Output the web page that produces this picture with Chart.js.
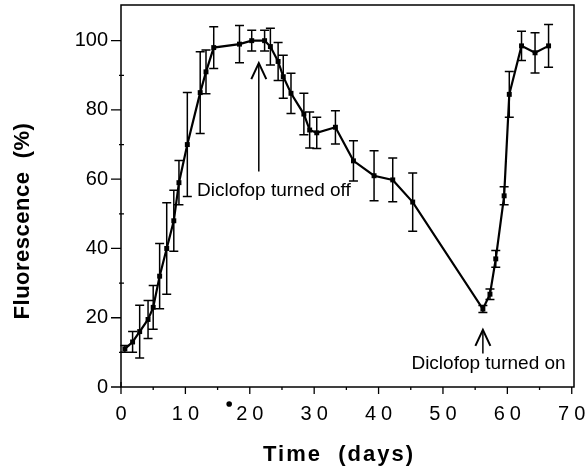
<!DOCTYPE html>
<html>
<head>
<meta charset="utf-8">
<script src="https://cdn.jsdelivr.net/npm/chart.js@4/dist/chart.umd.min.js"></script>
<style>
html,body{margin:0;padding:0;background:#fff;}
canvas{display:block;}
</style>
</head>
<body>
<canvas id="c" width="588" height="470"></canvas>
<script>
// ---- data ----
const days = [0.6, 1.8, 2.9, 4.2, 5.0, 6.0, 7.1, 8.2, 9.0, 10.3, 12.3, 13.2, 14.4, 18.4, 20.3, 22.3, 23.2, 24.4, 25.2, 26.4, 28.4, 29.3, 30.4, 33.3, 36.1, 39.3, 42.2, 45.3, 56.2, 57.3, 58.2, 59.5, 60.3, 62.2, 64.3, 66.4];
const fluorescence = [11, 13, 16, 19.5, 23, 32, 40, 48, 59, 70, 85, 91, 98, 99, 100, 100, 98.3, 94, 89.6, 84.8, 78.8, 74.2, 73.4, 75, 65.3, 61, 59.8, 53.4, 22.5, 26.8, 37, 55.2, 84.5, 98.5, 96.5, 98.5];
const errors = [1, 3, 7.6, 5.5, 6.3, 9.4, 13.2, 8.8, 6.4, 15, 11.8, 6.3, 6, 5.4, 3, 3, 5.3, 5.5, 6.2, 5.8, 6, 5.2, 4.5, 4.8, 5.8, 7.2, 6.3, 8.4, 1, 1.5, 2.4, 2.6, 6.6, 4.2, 5.8, 6.2];
const xTickValues = [0, 10, 20, 30, 40, 50, 60, 70];
const xMinorTicks = [5, 15, 25, 35, 45, 55, 65];
const yTickValues = [0, 20, 40, 60, 80, 100];
const yMinorTicks = [10, 30, 50, 70, 90];
const xTitle = 'Time  (days)';
const yTitle = 'Fluorescence  (%)';
const annotations = [
  {text: 'Diclofop turned off', arrowX: 21.4, tipY: 93.5, tailY: 62.2, textX: 11.8, textY: 56.6},
  {text: 'Diclofop turned on', arrowX: 56.2, tipY: 16.5, tailY: 9.7, textX: 45.1, textY: 6.6}
];
const strayDot = {x: 16.8, y: -4.9};

const FONT = "'Liberation Sans', Arial, Helvetica, sans-serif";

const drawPlugin = {
  id: 'extras',
  afterDatasetsDraw(chart) {
    const ctx = chart.ctx;
    const xs = chart.scales.x, ys = chart.scales.y;
    const a = chart.chartArea;
    ctx.save();
    ctx.strokeStyle = '#000';
    ctx.fillStyle = '#000';
    // frame
    ctx.lineWidth = 1.5;
    ctx.strokeRect(a.left, a.top, a.right - a.left, a.bottom - a.top);
    // ticks
    ctx.lineWidth = 1.3;
    ctx.beginPath();
    yTickValues.forEach(v => { const p = ys.getPixelForValue(v); ctx.moveTo(a.left - 10, p); ctx.lineTo(a.left, p); });
    yMinorTicks.forEach(v => { const p = ys.getPixelForValue(v); ctx.moveTo(a.left - 2, p); ctx.lineTo(a.left + 3, p); });
    xTickValues.forEach(v => { const p = xs.getPixelForValue(v); ctx.moveTo(p, a.bottom); ctx.lineTo(p, a.bottom + 7); });
    xMinorTicks.forEach(v => { const p = xs.getPixelForValue(v); ctx.moveTo(p, a.bottom); ctx.lineTo(p, a.bottom + 3); });
    const x0 = xs.getPixelForValue(0);
    ctx.moveTo(x0, a.bottom - 5); ctx.lineTo(x0, a.bottom);
    ctx.stroke();
    // error bars
    ctx.lineWidth = 1.5;
    ctx.beginPath();
    days.forEach((d, i) => {
      const px = xs.getPixelForValue(d);
      const hi = ys.getPixelForValue(fluorescence[i] + errors[i]);
      const lo = ys.getPixelForValue(fluorescence[i] - errors[i]);
      ctx.moveTo(px, hi); ctx.lineTo(px, lo);
      ctx.moveTo(px - 4.5, hi); ctx.lineTo(px + 4.5, hi);
      ctx.moveTo(px - 4.5, lo); ctx.lineTo(px + 4.5, lo);
    });
    ctx.stroke();
    // annotations
    annotations.forEach(an => {
      const px = xs.getPixelForValue(an.arrowX);
      const tip = ys.getPixelForValue(an.tipY);
      const tail = ys.getPixelForValue(an.tailY);
      ctx.lineWidth = 1.5;
      ctx.beginPath();
      ctx.moveTo(px, tail); ctx.lineTo(px, tip);
      ctx.stroke();
      ctx.lineWidth = 2;
      ctx.beginPath();
      ctx.moveTo(px - 7.5, tip + 16); ctx.lineTo(px, tip); ctx.lineTo(px + 7.5, tip + 16);
      ctx.stroke();
      ctx.font = '19px ' + FONT;
      ctx.textAlign = 'left';
      ctx.textBaseline = 'middle';
      ctx.fillText(an.text, xs.getPixelForValue(an.textX), ys.getPixelForValue(an.textY));
    });
    // stray dot
    ctx.beginPath();
    ctx.arc(xs.getPixelForValue(strayDot.x), ys.getPixelForValue(strayDot.y), 2.8, 0, Math.PI * 2);
    ctx.fill();
    // axis titles
    ctx.font = 'bold 22px ' + FONT;
    ctx.textAlign = 'center';
    ctx.textBaseline = 'alphabetic';
    try { ctx.letterSpacing = '2px'; } catch (e) {}
    ctx.fillText(xTitle, 339, 461);
    ctx.save();
    try { ctx.letterSpacing = '0.5px'; } catch (e) {}
    ctx.translate(29, 221);
    ctx.rotate(-Math.PI / 2);
    ctx.fillText(yTitle, 0, 0);
    ctx.restore();
    ctx.restore();
  }
};

new Chart(document.getElementById('c'), {
  type: 'line',
  data: {
    datasets: [{
      data: days.map((d, i) => ({x: d, y: fluorescence[i]})),
      borderColor: '#000',
      backgroundColor: '#000',
      borderWidth: 2.2,
      pointStyle: 'rect',
      pointRadius: 3.5,
      pointBorderWidth: 0,
      tension: 0
    }]
  },
  options: {
    responsive: false,
    animation: false,
    devicePixelRatio: 1,
    layout: {padding: {top: 5, right: 14, left: 0, bottom: 0}},
    plugins: {legend: {display: false}, tooltip: {enabled: false}},
    scales: {
      x: {
        type: 'linear', min: 0, max: 70.35,
        afterBuildTicks: s => { s.ticks = xTickValues.map(v => ({value: v})); },
        afterFit: s => { s.height = 83; s.paddingLeft = 0; s.paddingRight = 0; },
        grid: {drawOnChartArea: false, drawTicks: false},
        border: {display: false},
        ticks: {
          color: '#000', padding: 15, maxRotation: 0, autoSkip: false,
          font: {family: FONT, size: 20},
          callback: v => String(v).split('').join('\u2005')
        }
      },
      y: {
        type: 'linear', min: 0, max: 110.3,
        afterBuildTicks: s => { s.ticks = yTickValues.map(v => ({value: v})); },
        afterFit: s => { s.width = 121; s.paddingTop = 0; s.paddingBottom = 0; },
        grid: {drawOnChartArea: false, drawTicks: false},
        border: {display: false},
        ticks: {
          color: '#000', padding: 13, autoSkip: false,
          font: {family: FONT, size: 20},
          callback: v => String(v)
        }
      }
    }
  },
  plugins: [drawPlugin]
});
</script>
</body>
</html>
